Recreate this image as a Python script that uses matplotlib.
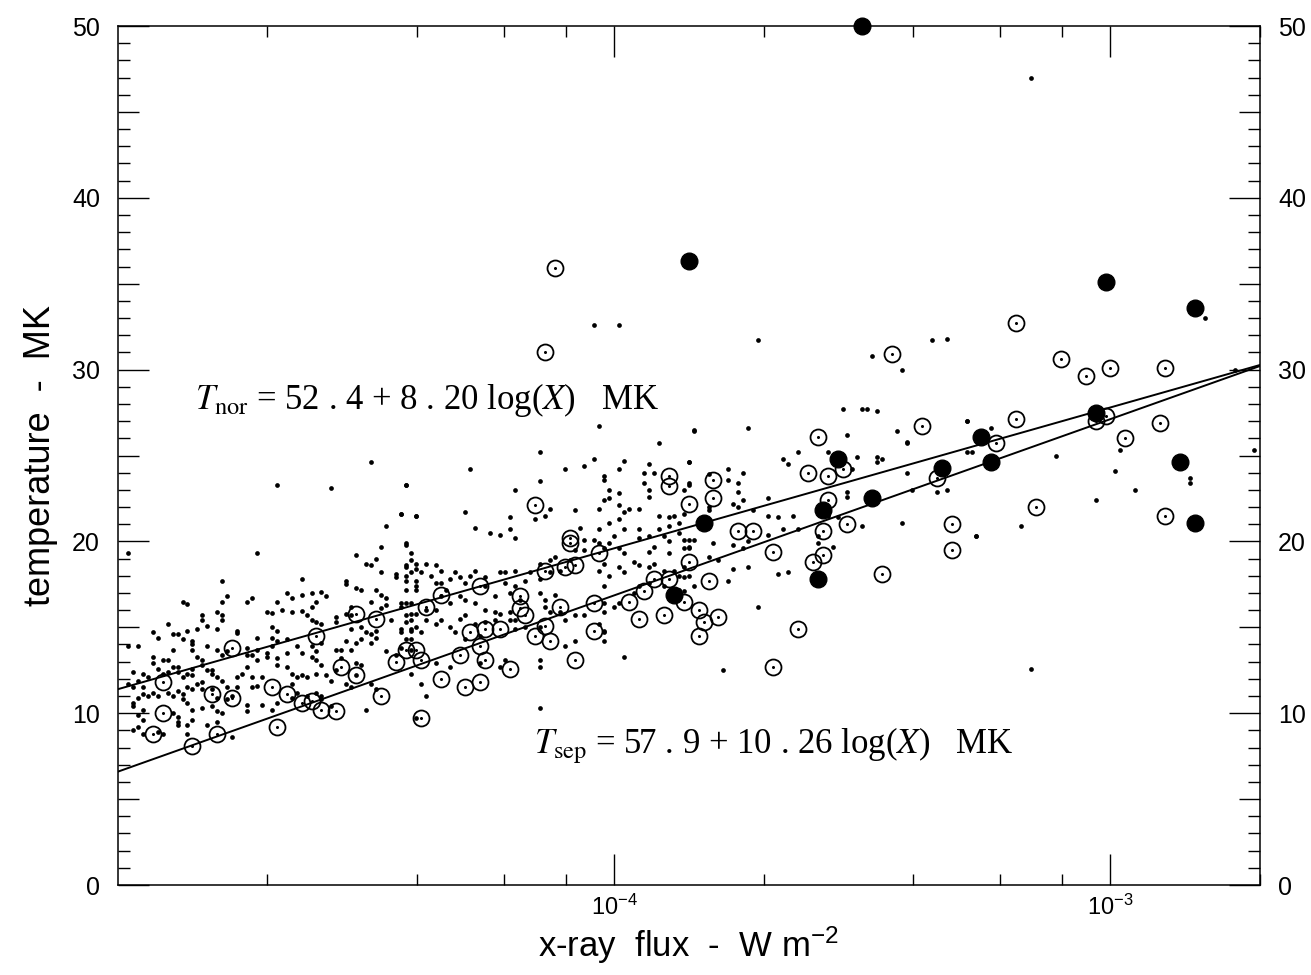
import numpy as np
import matplotlib
matplotlib.use("Agg")
import matplotlib.pyplot as plt
from matplotlib.ticker import FixedLocator, FixedFormatter, LogLocator, NullFormatter, MultipleLocator

plt.rcParams['font.family'] = ['Liberation Sans', 'DejaVu Sans']
plt.rcParams['mathtext.fontset'] = 'custom'
plt.rcParams['mathtext.rm'] = 'Liberation Sans'
plt.rcParams['mathtext.it'] = 'Liberation Sans:italic'
plt.rcParams['mathtext.default'] = 'regular'

# fitted relations T = a + b log(X)
fit_nor = (52.4, 8.20)
fit_sep = (57.9, 10.26)

# small dots: (log10 flux, temperature MK)
dots_left = [
    (-4.98, 19.3), (-4.72, 19.3), (-4.47, 19.7), (-4.42, 19.8), (-4.41, 19.3), (-4.52, 19.2), (-4.48, 19.0),
    (-4.50, 18.7), (-4.49, 18.6), (-4.42, 18.6), (-4.40, 18.4), (-4.47, 18.2), (-4.44, 18.1), (-4.44, 17.95),
    (-4.42, 17.7), (-4.40, 17.4), (-4.54, 17.7), (-4.54, 17.5), (-4.52, 17.3), (-4.63, 17.8), (-4.79, 17.7),
    (-4.78, 16.8), (-4.87, 16.5), (-4.86, 16.35), (-4.74, 16.5), (-4.73, 16.7), (-4.66, 17.0), (-4.65, 16.7),
    (-4.63, 16.9), (-4.61, 17.0), (-4.59, 17.05), (-4.58, 16.8), (-4.60, 16.5), (-4.61, 16.2), (-4.68, 16.5),
    (-4.70, 15.9), (-4.69, 15.85), (-4.67, 16.0), (-4.65, 15.9), (-4.63, 15.95), (-4.62, 15.7), (-4.61, 15.4),
    (-4.60, 15.3), (-4.59, 15.2), (-4.56, 15.3), (-4.56, 15.6), (-4.54, 15.8), (-4.53, 16.2), (-4.53, 15.7),
    (-4.51, 17.2), (-4.48, 17.2), (-4.47, 16.9), (-4.49, 16.5), (-4.46, 16.7), (-4.46, 16.3), (-4.47, 16.15),
    (-4.43, 16.2), (-4.41, 16.4), (-4.42, 15.7), (-4.41, 15.4), (-4.42, 15.3), (-4.43, 14.9), (-4.41, 14.8),
    (-4.45, 15.4), (-4.48, 14.8), (-4.51, 15.0), (-4.53, 14.9), (-4.50, 14.7), (-4.49, 14.6), (-4.48, 14.4),
    (-4.49, 14.1), (-4.51, 14.3), (-4.52, 14.1), (-4.54, 14.2), (-4.55, 13.7), (-4.53, 13.7), (-4.56, 13.7),
    (-4.59, 14.1), (-4.61, 13.9), (-4.60, 13.6), (-4.61, 13.3), (-4.60, 13.1), (-4.63, 13.5), (-4.64, 13.9),
    (-4.66, 14.3), (-4.68, 14.2), (-4.68, 14.8), (-4.69, 15.0), (-4.69, 14.4), (-4.69, 13.9), (-4.70, 13.5),
    (-4.68, 13.2), (-4.66, 13.5), (-4.70, 13.3), (-4.72, 13.7), (-4.73, 13.4), (-4.72, 13.1), (-4.74, 13.4),
    (-4.74, 12.7), (-4.75, 12.3), (-4.76, 12.1), (-4.73, 12.1), (-4.73, 11.5), (-4.72, 11.6), (-4.71, 12.1),
    (-4.68, 12.8), (-4.66, 12.7), (-4.65, 12.3), (-4.64, 12.1), (-4.63, 12.2), (-4.62, 12.1), (-4.60, 12.3),
    (-4.65, 11.7), (-4.64, 11.2), (-4.65, 10.9), (-4.62, 11.0), (-4.60, 11.2), (-4.59, 11.0), (-4.68, 10.6),
    (-4.69, 10.2), (-4.71, 10.5), (-4.74, 10.5), (-4.74, 10.1), (-4.80, 10.1), (-4.79, 10.0), (-4.81, 10.4),
    (-4.83, 10.3), (-4.85, 10.2), (-4.86, 10.6), (-4.87, 10.8), (-4.88, 11.3), (-4.86, 11.5), (-4.84, 11.7),
    (-4.83, 11.8), (-4.81, 12.3), (-4.80, 12.1), (-4.79, 11.9), (-4.78, 11.5), (-4.76, 11.5), (-4.77, 11.0),
    (-4.78, 10.8), (-4.80, 10.9), (-4.81, 11.4), (-4.83, 11.4), (-4.85, 11.4), (-4.87, 11.1), (-4.89, 11.0),
    (-4.90, 11.2), (-4.92, 11.0), (-4.93, 11.2), (-4.94, 11.0), (-4.95, 11.1), (-4.96, 10.9), (-4.97, 10.6),
    (-4.97, 10.4), (-4.95, 10.2), (-4.96, 9.9), (-4.95, 9.6), (-4.96, 9.2), (-4.97, 9.0), (-4.95, 8.8),
    (-4.92, 8.9), (-4.91, 8.8), (-4.88, 9.8), (-4.88, 9.5), (-4.89, 10.0), (-4.85, 9.6), (-4.86, 9.3),
    (-4.86, 8.8), (-4.88, 9.3), (-4.82, 9.3), (-4.80, 9.5), (-4.77, 8.6), (-4.91, 12.3), (-4.90, 12.4),
    (-4.88, 12.4), (-4.88, 12.7), (-4.89, 12.7), (-4.87, 12.1), (-4.86, 12.3), (-4.85, 12.2), (-4.85, 12.6),
    (-4.83, 12.8), (-4.82, 12.5), (-4.81, 12.5), (-4.83, 13.1), (-4.84, 13.3), (-4.85, 13.7), (-4.85, 14.0),
    (-4.82, 13.9), (-4.80, 13.7), (-4.79, 13.4), (-4.89, 13.7), (-4.90, 13.1), (-4.93, 12.9), (-4.92, 12.6),
    (-4.95, 12.3), (-4.94, 12.1), (-4.96, 11.9), (-4.97, 11.5), (-4.95, 11.5), (-4.98, 11.7), (-4.97, 12.4),
    (-4.98, 13.9), (-4.96, 13.9), (-4.93, 13.3), (-4.91, 13.1), (-4.87, 14.3), (-4.85, 14.2), (-4.89, 14.6),
    (-4.88, 14.6), (-4.92, 14.4), (-4.93, 14.7), (-4.90, 15.2), (-4.86, 14.8), (-4.84, 14.9), (-4.82, 15.1),
    (-4.80, 14.9), (-4.76, 14.8), (-4.76, 14.65), (-4.79, 15.4), (-4.79, 15.7), (-4.83, 15.7), (-4.83, 15.4),
    (-4.80, 15.9), (-4.79, 16.5), (-4.72, 14.4), (-4.74, 13.8), (-4.78, 13.6), (-4.52, 12.2), (-4.49, 11.7),
    (-4.48, 11.4), (-4.53, 11.5), (-4.51, 12.8), (-4.52, 12.9), (-4.55, 13.2), (-4.56, 12.5), (-4.59, 12.8),
    (-4.58, 12.2), (-4.57, 11.9), (-4.54, 11.7), (-4.46, 13.6), (-4.44, 13.4), (-4.43, 13.8), (-4.41, 13.7),
    (-4.41, 14.3), (-4.40, 9.7), (-4.50, 10.2), (-4.57, 10.4), (-4.59, 10.8),
    (-4.68, 23.3), (-4.57, 23.1), (-4.49, 24.6), (-4.42, 23.3), (-4.43, 21.6), (-4.40, 21.5), (-4.46, 20.9),
    (-4.42, 19.9),
]

dots_mid = [
    (-4.42, 23.3), (-4.43, 21.6), (-4.40, 21.5), (-4.29, 24.2), (-4.15, 25.2), (-4.10, 24.2), (-4.15, 23.5),
    (-4.20, 23.0), (-4.30, 21.7), (-4.28, 20.8), (-4.25, 20.5), (-4.23, 20.4), (-4.21, 20.7), (-4.21, 21.4),
    (-4.20, 20.2), (-4.16, 21.3), (-4.14, 21.5), (-4.13, 21.9), (-4.08, 21.8), (-4.07, 20.8), (-4.06, 20.1),
    (-4.06, 24.4), (-4.04, 24.8), (-4.02, 23.8), (-4.02, 23.6), (-4.01, 23.0), (-4.02, 22.4), (-4.01, 22.5),
    (-3.99, 22.8), (-3.98, 24.7), (-3.99, 24.2), (-3.93, 24.5), (-3.91, 25.7), (-3.94, 24.0), (-3.92, 24.0),
    (-3.94, 23.4), (-3.93, 23.0), (-3.93, 22.6), (-3.85, 24.6), (-3.85, 23.4), (-3.84, 26.4), (-4.03, 21.9),
    (-3.99, 22.1), (-3.98, 21.7), (-3.97, 21.9), (-3.95, 21.9), (-3.91, 21.5), (-3.89, 21.4), (-3.88, 21.5),
    (-3.87, 21.1), (-3.89, 20.9), (-3.91, 20.7), (-3.95, 20.7), (-3.98, 20.7), (-3.99, 21.3), (-4.01, 21.1),
    (-4.03, 20.7), (-4.00, 20.3), (-4.01, 19.9), (-4.03, 19.9), (-4.04, 20.1), (-4.02, 19.6), (-3.99, 19.6),
    (-3.98, 19.3), (-3.95, 20.2), (-3.93, 20.3), (-3.92, 19.7), (-3.90, 20.3), (-3.89, 20.0), (-3.87, 20.5),
    (-3.86, 20.1), (-3.85, 19.7), (-3.89, 19.3), (-3.93, 19.4), (-3.96, 18.8), (-3.99, 18.5), (-4.02, 18.7),
    (-4.03, 18.3), (-4.01, 18.0), (-3.98, 18.2), (-3.95, 18.6), (-3.93, 18.5), (-3.92, 18.7), (-3.90, 18.3),
    (-3.88, 18.3), (-3.86, 18.5), (-3.85, 18.0), (-3.87, 18.0), (-3.84, 20.1), (-4.06, 19.5), (-4.08, 19.5),
    (-4.09, 18.9), (-4.12, 19.1), (-4.13, 18.9), (-4.11, 18.3), (-4.13, 18.2), (-4.15, 18.7), (-4.15, 17.8),
    (-4.17, 18.2), (-4.18, 17.7), (-4.20, 17.4), (-4.20, 18.3), (-4.22, 18.2), (-4.23, 18.2), (-4.22, 17.6),
    (-4.21, 17.0), (-4.19, 16.6), (-4.24, 16.8), (-4.26, 17.4), (-4.26, 17.9), (-4.28, 18.3), (-4.29, 18.0),
    (-4.30, 17.6), (-4.31, 17.9), (-4.32, 18.2), (-4.33, 17.8), (-4.35, 18.3), (-4.36, 18.6), (-4.38, 18.7),
    (-4.40, 18.7), (-4.41, 18.9), (-4.42, 18.5), (-4.42, 18.0), (-4.41, 18.2), (-4.39, 18.2), (-4.37, 18.0),
    (-4.36, 17.6), (-4.35, 17.6), (-4.34, 17.2), (-4.40, 17.7), (-4.40, 17.2), (-4.42, 17.2), (-4.43, 16.4),
    (-4.42, 16.4), (-4.41, 15.8), (-4.40, 15.8), (-4.38, 16.0), (-4.36, 16.0), (-4.35, 16.8), (-4.33, 16.4),
    (-4.31, 16.8), (-4.30, 16.6), (-4.28, 16.4), (-4.26, 16.0), (-4.24, 15.9), (-4.23, 15.8), (-4.21, 15.9),
    (-4.20, 15.4), (-4.21, 15.4), (-4.24, 15.4), (-4.26, 15.3), (-4.28, 15.2), (-4.30, 15.7), (-4.31, 15.5),
    (-4.33, 15.0), (-4.35, 15.4), (-4.36, 15.2), (-4.38, 15.4), (-4.40, 15.0), (-4.41, 14.9), (-4.39, 14.7),
    (-4.42, 14.3), (-4.43, 14.7), (-4.15, 17.0), (-4.14, 16.6), (-4.12, 16.9), (-4.14, 16.2), (-4.13, 15.9),
    (-4.11, 15.9), (-4.10, 15.4), (-4.08, 15.7), (-4.06, 15.7), (-4.02, 17.4), (-4.02, 16.4), (-4.02, 15.9),
    (-4.00, 16.2), (-3.99, 16.4), (-3.96, 17.0), (-3.95, 17.4), (-3.93, 17.6), (-3.90, 17.4), (-3.89, 17.0),
    (-3.87, 17.2), (-3.86, 17.1), (-3.84, 17.4), (-4.03, 15.2), (-4.02, 14.8), (-4.02, 14.7), (-4.02, 14.2),
    (-4.08, 14.2), (-4.10, 13.9), (-4.15, 13.1), (-4.15, 12.7), (-4.22, 13.1), (-4.23, 12.7), (-4.33, 12.7),
    (-4.36, 12.9), (-4.39, 11.7), (-4.38, 11.0), (-4.41, 12.3), (-3.98, 13.3), (-4.15, 10.3), (-4.15, 15.0),
    (-4.18, 15.0), (-4.20, 14.9), (-4.32, 14.7), (-4.30, 14.3), (-4.27, 14.5), (-4.27, 12.9),
    (-4.04, 32.6), (-3.99, 32.6), (-4.03, 26.7),
]

dots_right = [
    (-3.84, 26.5), (-3.73, 26.6), (-3.54, 27.7), (-3.50, 27.7), (-3.49, 27.7), (-3.47, 27.6), (-3.53, 26.2),
    (-3.43, 26.4), (-3.41, 25.8), (-3.41, 25.7), (-3.29, 27.0), (-3.27, 20.3), (-3.85, 24.6), (-3.77, 24.2),
    (-3.74, 24.0), (-3.77, 23.6), (-3.81, 23.9), (-3.85, 23.3), (-3.86, 23.0), (-3.63, 25.2), (-3.66, 24.8),
    (-3.65, 24.5), (-3.57, 25.2), (-3.51, 24.9), (-3.47, 24.9), (-3.46, 24.8), (-3.47, 24.6), (-3.52, 24.2),
    (-3.41, 24.0), (-3.40, 23.0), (-3.35, 22.9), (-3.33, 23.0), (-3.28, 25.2), (-3.42, 21.1), (-3.50, 20.9),
    (-3.53, 22.9), (-3.53, 22.6), (-3.55, 21.4), (-3.56, 19.7), (-3.59, 19.9), (-3.59, 20.3), (-3.64, 21.5),
    (-3.67, 21.4), (-3.69, 21.5), (-3.69, 22.5), (-3.72, 21.8), (-3.74, 22.4), (-3.76, 22.2), (-3.75, 22.0),
    (-3.75, 22.9), (-3.75, 23.4), (-3.81, 22.0), (-3.81, 21.8), (-3.86, 21.6), (-3.69, 20.4), (-3.66, 20.7),
    (-3.63, 20.7), (-3.73, 20.0), (-3.74, 19.6), (-3.76, 19.8), (-3.80, 19.9), (-3.85, 20.1), (-3.86, 19.6),
    (-3.85, 19.6), (-3.79, 18.9), (-3.81, 19.1), (-3.76, 18.4), (-3.73, 18.5), (-3.67, 18.1), (-3.65, 18.2),
    (-3.77, 17.7), (-3.86, 17.9), (-3.71, 16.2), (-3.78, 12.5), (-3.57, 21.5),
    (-3.71, 31.7), (-3.48, 30.8), (-3.42, 30.0), (-3.36, 31.7), (-3.33, 31.8),
    (-3.29, 27.0), (-3.24, 26.6), (-3.29, 25.2), (-3.11, 25.0), (-2.98, 25.3), (-2.99, 24.1), (-2.95, 23.0),
    (-3.03, 22.4), (-3.27, 20.3), (-3.18, 20.9), (-2.84, 23.7), (-2.84, 23.4), (-2.81, 33.0), (-2.75, 30.0),
    (-2.71, 25.3), (-3.16, 47.0), (-3.16, 12.6),
]

# open circles (with centre dot)
circles = [
    (-4.12, 35.9), (-4.14, 31.0), (-3.19, 32.7), (-3.44, 30.9), (-3.10, 30.6), (-3.05, 29.6), (-3.00, 30.1),
    (-2.89, 30.1), (-3.19, 27.1), (-3.23, 25.7), (-3.01, 27.3), (-3.03, 27.0), (-2.97, 26.0), (-2.90, 26.9),
    (-3.15, 22.0), (-2.89, 21.5), (-3.32, 21.0), (-3.32, 19.5), (-3.38, 26.7), (-3.59, 26.1), (-3.61, 24.0),
    (-3.57, 23.8), (-3.54, 24.2), (-3.57, 22.4), (-3.53, 21.0), (-3.58, 20.6), (-3.58, 19.2), (-3.60, 18.8),
    (-3.68, 19.4), (-3.75, 20.6), (-3.72, 20.6), (-3.80, 23.6), (-3.80, 22.5), (-3.85, 22.2), (-3.35, 23.7),
    (-3.46, 18.1), (-3.85, 18.8), (-3.81, 17.7), (-3.86, 16.5), (-3.83, 16.0), (-3.82, 15.3), (-3.79, 15.6),
    (-3.83, 14.5), (-3.63, 14.9), (-3.68, 12.7),
    (-4.16, 22.1), (-3.89, 23.8), (-3.89, 23.2), (-4.09, 20.2), (-4.09, 19.9), (-4.03, 19.3), (-4.10, 18.5),
    (-4.08, 18.6), (-4.14, 18.3), (-4.35, 16.9), (-4.38, 16.2), (-4.27, 17.4), (-4.19, 16.8), (-4.19, 16.1),
    (-4.11, 16.2), (-4.04, 16.4), (-3.92, 17.8), (-3.89, 17.8), (-3.94, 17.1), (-3.97, 16.5), (-3.95, 15.5),
    (-3.90, 15.7), (-4.18, 15.7), (-4.14, 15.1), (-4.13, 14.2), (-4.16, 14.5), (-4.04, 14.8), (-4.26, 14.9),
    (-4.23, 14.9), (-4.29, 14.7), (-4.27, 13.9), (-4.31, 13.4), (-4.26, 13.1), (-4.39, 13.1), (-4.08, 13.1),
    (-4.21, 12.6), (-4.35, 12.0), (-4.30, 11.5), (-4.27, 11.8), (-4.39, 9.7),
    (-4.77, 13.8), (-4.91, 11.8), (-4.91, 10.0), (-4.93, 8.8), (-4.85, 8.1), (-4.80, 8.8), (-4.81, 11.1),
    (-4.77, 10.9), (-4.69, 11.5), (-4.66, 11.1), (-4.63, 10.6), (-4.61, 10.7), (-4.59, 10.2), (-4.56, 10.1),
    (-4.68, 9.2), (-4.60, 14.5), (-4.52, 15.8), (-4.48, 15.5), (-4.55, 12.7), (-4.52, 12.2), (-4.47, 11.0),
    (-4.44, 13.0), (-4.42, 13.7), (-4.40, 13.7),
]

# filled circles
filled = [
    (-3.50, 50.0), (-3.85, 36.3), (-3.01, 35.1), (-2.83, 33.6), (-3.26, 26.1), (-3.03, 27.5), (-3.24, 24.6),
    (-2.86, 24.6), (-2.83, 21.1), (-3.55, 24.8), (-3.34, 24.3), (-3.48, 22.5), (-3.58, 21.8), (-3.59, 17.8),
    (-3.82, 21.1), (-3.88, 16.9),
]


def unpack(pts):
    a = np.array(pts)
    return 10 ** a[:, 0], a[:, 1]


fig = plt.figure(figsize=(13.11, 9.75), dpi=100)
ax = fig.add_axes([0.090, 0.0923, 0.871, 0.881])

xlo, xhi = 1e-5, 2e-3
xx = np.logspace(np.log10(xlo), np.log10(xhi), 50)
for a, b in (fit_nor, fit_sep):
    ax.plot(xx, a + b * np.log10(xx), color='black', lw=1.4, zorder=2)

for pts in (dots_left, dots_mid, dots_right):
    x, y = unpack(pts)
    ax.plot(x, y, 'o', ms=3.4, color='black', mew=0, zorder=3)

x, y = unpack(circles)
ax.plot(x, y, 'o', ms=11.5, mfc='none', mec='black', mew=1.3, zorder=4)
ax.plot(x, y, 'o', ms=2.2, color='black', mew=0, zorder=4)

x, y = unpack(filled)
ax.plot(x, y, 'o', ms=12, color='black', zorder=5, clip_on=False)

ax.set_xscale('log')
ax.set_xlim(xlo, xhi)
ax.set_ylim(0, 50)

ax.xaxis.set_major_locator(FixedLocator([1e-4, 1e-3]))
ax.xaxis.set_major_formatter(FixedFormatter(['10$^{-4}$', '10$^{-3}$']))
ax.xaxis.set_minor_locator(LogLocator(base=10, subs=(2, 4, 6, 8)))
ax.xaxis.set_minor_formatter(NullFormatter())
ax.yaxis.set_major_locator(MultipleLocator(10))
ax.yaxis.set_minor_locator(MultipleLocator(1))

ax.tick_params(which='both', direction='in', top=True, right=True, width=1.0, color='black')
ax.tick_params(axis='x', which='major', length=22, labelsize=17, pad=7)
ax.tick_params(axis='x', which='minor', length=8)
ax.tick_params(axis='y', which='major', length=22, labelsize=18, pad=13, labelright=True)
ax.tick_params(axis='y', which='minor', length=8.5)

# slightly longer minor ticks at the half-decades (5, 15, ...)
mticks = ax.yaxis.get_minor_ticks()
for t, loc in zip(mticks, ax.yaxis.get_minorticklocs()):
    if abs(loc % 10 - 5) < 1e-6:
        t.tick1line.set_markersize(15)
        t.tick2line.set_markersize(15)

for s in ax.spines.values():
    s.set_linewidth(1.1)

ax.set_xlabel('x-ray  flux  -  W m$^{-2}$', fontsize=25, labelpad=3)
ax.set_ylabel('temperature  -  MK', fontsize=26, labelpad=10)

ax.text(1.43e-5, 28.25, r'$\mathit{T}_{\mathrm{nor}}$ = 52 . 4 + 8 . 20 log($\mathit{X}$)   MK',
        fontsize=25, family='Liberation Serif', math_fontfamily='stix', va='center', ha='left')
ax.text(6.9e-5, 8.15, r'$\mathit{T}_{\mathrm{sep}}$ = 57 . 9 + 10 . 26 log($\mathit{X}$)   MK',
        fontsize=25, family='Liberation Serif', math_fontfamily='stix', va='center', ha='left')

fig.savefig('out.png', dpi=100)
